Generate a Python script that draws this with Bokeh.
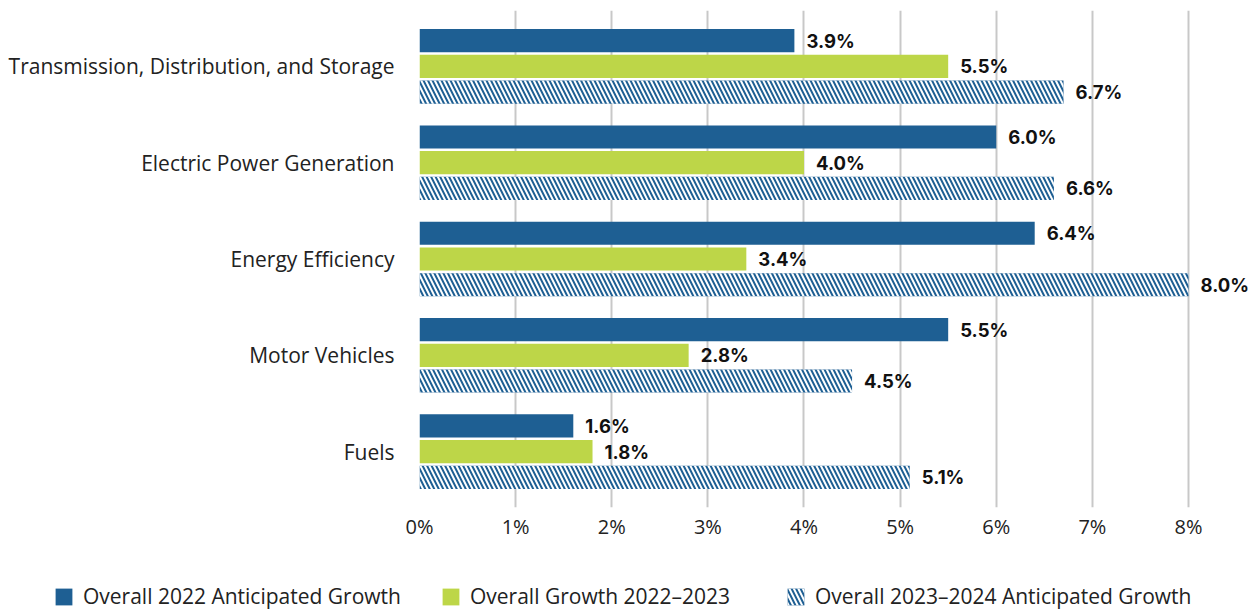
from bokeh.plotting import figure
from bokeh.models import ColumnDataSource, FactorRange, Range1d, FixedTicker, Legend, LegendItem
from bokeh.layouts import column, row
from bokeh.transform import dodge
from bokeh.core.properties import value
from bokeh.embed import file_html
from bokeh.resources import INLINE

categories = ["Transmission, Distribution, and Storage", "Electric Power Generation",
              "Energy Efficiency", "Motor Vehicles", "Fuels"]
growth_2022 = [3.9, 6.0, 6.4, 5.5, 1.6]
growth_2022_2023 = [5.5, 4.0, 3.4, 2.8, 1.8]
growth_2023_2024 = [6.7, 6.6, 8.0, 4.5, 5.1]
series_names = ["Overall 2022 Anticipated Growth", "Overall Growth 2022\u20132023",
                "Overall 2023\u20132024 Anticipated Growth"]
x_ticks = [0, 1, 2, 3, 4, 5, 6, 7, 8]
x_tick_labels = [f"{t}%" for t in x_ticks]

BLUE = "#1E5F93"
GREEN = "#BDD648"
FONT = "Open Sans"
BOLD_FONT = "Inter"
W = 1250

src = ColumnDataSource(dict(
    cat=categories,
    a=growth_2022, b=growth_2022_2023, c=growth_2023_2024,
    la=[f"{v:.1f}%" for v in growth_2022],
    lb=[f"{v:.1f}%" for v in growth_2022_2023],
    lc=[f"{v:.1f}%" for v in growth_2023_2024],
))

p = figure(width=W, height=560, output_backend="svg", toolbar_location=None,
           y_range=FactorRange(factors=list(reversed(categories)), range_padding=0.032),
           x_range=Range1d(0, 8.645),
           min_border_left=419, min_border_right=0, min_border_top=10, min_border_bottom=53)
p.outline_line_color = None

off = 0.267
h = 0.24
bar_kw = dict(left=0, height=h, line_color=None)
hatch_kw = dict(fill_color=BLUE, hatch_pattern="\\", hatch_color="white",
                hatch_weight=2, hatch_scale=9)

p.hbar(y=dodge("cat", off, range=p.y_range), right="a", fill_color=BLUE, source=src, **bar_kw)
p.hbar(y=dodge("cat", 0, range=p.y_range), right="b", fill_color=GREEN, source=src, **bar_kw)
p.hbar(y=dodge("cat", -off, range=p.y_range), right="c", source=src, **hatch_kw, **bar_kw)

for col, lab, o in (("a", "la", off), ("b", "lb", 0), ("c", "lc", -off)):
    p.text(x=col, y=dodge("cat", o, range=p.y_range), text=lab, source=src,
           x_offset=12, text_baseline="middle", text_align="left",
           text_font=value(BOLD_FONT), text_font_style="bold", text_font_size="18.5px",
           text_color="#111111")

# grid
p.ygrid.grid_line_color = None
p.xgrid.ticker = FixedTicker(ticks=x_ticks)
p.xgrid.grid_line_color = "#c8c8c8"
p.xgrid.grid_line_width = 2
p.xgrid.level = "underlay"

# x axis
p.xaxis.ticker = FixedTicker(ticks=x_ticks)
p.xaxis.major_label_overrides = {t: l for t, l in zip(x_ticks, x_tick_labels)}
p.xaxis.axis_line_color = None
p.xaxis.major_tick_line_color = None
p.xaxis.minor_tick_line_color = None
p.xaxis.major_tick_out = 0
p.xaxis.major_label_standoff = 5
p.xaxis.major_label_text_font = FONT
p.xaxis.major_label_text_font_size = "20px"
p.xaxis.major_label_text_color = "#222222"

# y axis
p.yaxis.axis_line_color = None
p.yaxis.major_tick_line_color = None
p.yaxis.minor_tick_line_color = None
p.yaxis.major_label_standoff = 19
p.yaxis.major_label_text_font = FONT
p.yaxis.major_label_text_font_size = "21px"
p.yaxis.major_label_text_color = "#222222"

# legend strip: same series glyphs, ranges chosen so only the legend shows
lp = figure(width=W, height=52, output_backend="svg", toolbar_location=None,
            x_range=Range1d(100, 101), y_range=Range1d(100, 101),
            x_axis_type=None, y_axis_type=None,
            min_border_left=0, min_border_right=0, min_border_top=0, min_border_bottom=0)
lp.outline_line_color = None
lp.grid.visible = False
lr1 = lp.hbar(y=0, right="a", fill_color=BLUE, source=src, **bar_kw)
lr2 = lp.hbar(y=0, right="b", fill_color=GREEN, source=src, **bar_kw)
lr3 = lp.hbar(y=0, right="c", source=src, **hatch_kw, **bar_kw)

for name, rend, lx in ((series_names[0], lr1, 53), (series_names[1], lr2, 440), (series_names[2], lr3, 785)):
    lg = Legend(items=[LegendItem(label=name, renderers=[rend])],
                location=(lx, 2),
                glyph_width=21, glyph_height=21, label_height=21, label_standoff=9,
                label_text_font=FONT, label_text_font_size="21px", label_text_color="#222222",
                border_line_color=None, background_fill_alpha=0,
                margin=0, padding=0)
    lp.add_layout(lg)

layout = column(p, row(lp), spacing=0)
open("out.html", "w").write(file_html(layout, INLINE))
